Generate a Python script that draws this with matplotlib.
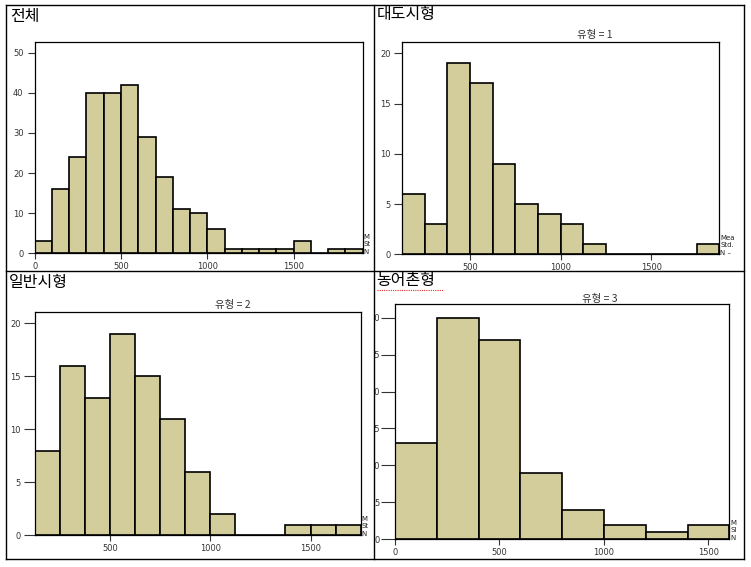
import numpy as np
import matplotlib
matplotlib.use("Agg")
import matplotlib.pyplot as plt
from matplotlib.lines import Line2D
from matplotlib.transforms import Bbox, TransformedBbox

plt.rcParams['font.family'] = ['Noto Sans CJK KR', 'DejaVu Sans']

# 전체 (bin width 100)
edges_all = np.arange(0, 2000, 100)
counts_all = [3, 16, 24, 40, 40, 42, 29, 19, 11, 10, 6, 1, 1, 1, 1, 3, 0, 1, 1]

# 대도시형, 유형 = 1 (bin width 125)
edges_1 = np.arange(125, 2000, 125)
counts_1 = [6, 3, 19, 17, 9, 5, 4, 3, 1, 0, 0, 0, 0, 1]

# 일반시형, 유형 = 2 (bin width 125)
edges_2 = np.arange(125, 1875, 125)
counts_2 = [8, 16, 13, 19, 15, 11, 6, 2, 0, 0, 1, 1, 1]

# 농어촌형, 유형 = 3 (bin width 200)
edges_3 = np.arange(0, 1800, 200)
counts_3 = [13, 30, 27, 9, 4, 2, 1, 2]

W, H = 751, 567
fig = plt.figure(figsize=(W / 100, H / 100), dpi=100)

BAR = '#D3CD9C'


def box(l, r, t, b):
    return [l / W, 1 - b / H, (r - l) / W, (b - t) / H]


def panel(rect, edges, counts, xlim, ylim, xticks, yticks, stats, ylen, ypad):
    ax = fig.add_axes(box(*rect))
    ax.bar(edges[:-1], counts, width=np.diff(edges), align='edge',
           color=BAR, edgecolor='black', linewidth=1.2)
    ax.set_xlim(*xlim)
    ax.set_ylim(*ylim)
    ax.set_xticks(xticks)
    ax.set_yticks(yticks)
    ax.tick_params(width=0.8, labelsize=6, labelcolor='#333333', color='#333333')
    ax.tick_params(axis='x', length=4, pad=2)
    ax.tick_params(axis='y', length=ylen, pad=ypad)
    for lab in ax.get_xticklabels() + ax.get_yticklabels():
        lab.set_family('DejaVu Sans')
    for s in ax.spines.values():
        s.set_linewidth(0.9)
    # 잘린 범례 글자 (Mean / Std. Dev / N)
    hpx = (rect[3] - rect[2])
    for i, s in enumerate(stats):
        off = [16.5, 9, 1.5][i]
        ax.text(1.003, off / hpx, s, transform=ax.transAxes,
                fontsize=5, family='DejaVu Sans', va='center', ha='left',
                color='#222222', clip_on=False)
    return ax


ax1 = panel((34.7, 362.7, 42.3, 253.3), edges_all, counts_all, (0, 1900), (0, 52.6),
            [0, 500, 1000, 1500], range(0, 51, 10), ['M', 'St', 'N'], 5, 3)
ax2 = panel((402, 719.3, 42.3, 254.3), edges_1, counts_1, (125, 1875), (0, 21.1),
            [500, 1000, 1500], range(0, 21, 5), ['Mea', 'Std.', 'N –'], 6, 2)
ax3 = panel((34.7, 360.7, 312.3, 535.3), edges_2, counts_2, (125, 1750), (0, 21.05),
            [500, 1000, 1500], range(0, 21, 5), ['M', 'St', 'N'], 8, 2)
ax4 = panel((395, 729.3, 304.3, 539.3), edges_3, counts_3, (0, 1600), (0, 31.8),
            [0, 500, 1000, 1500], range(0, 31, 5), ['M', 'Sl', 'N'], 10, 1)

# 셀 경계로 잘리는 글자
cells = {ax1: (6, 374, 5, 271), ax2: (374, 744, 5, 271),
         ax3: (6, 374, 271, 559), ax4: (374, 744, 271, 559)}
for ax, (l, r, t, b) in cells.items():
    clip = TransformedBbox(Bbox.from_extents(l / W, 1 - b / H, r / W, 1 - t / H),
                           fig.transFigure)
    for lab in ax.get_yticklabels() + ax.texts:
        lab.set_clip_box(clip)
        lab.set_clip_on(True)

# 표 테두리
lw = 1.0
for x in (6, 374, 744):
    fig.add_artist(Line2D([x / W, x / W], [1 - 5 / H, 1 - 559 / H], color='black', lw=lw))
for y in (5, 271, 559):
    fig.add_artist(Line2D([6 / W, 744 / W], [1 - y / H, 1 - y / H], color='black', lw=lw))

# 패널 제목
titles = [('전체', 10, 17), ('대도시형', 377, 14), ('일반시형', 9, 282), ('농어촌형', 376, 281)]
for s, x, y in titles:
    fig.text(x / W, 1 - y / H, s, fontsize=11.5, va='center', ha='left', color='black')
fig.add_artist(Line2D([377 / W, 443 / W], [1 - 290 / H, 1 - 290 / H],
                      color='#E03030', lw=0.8, ls=(0, (1, 1))))

subs = [('유형 = 1', 595, 35), ('유형 = 2', 233, 305), ('유형 = 3', 600, 299)]
for s, x, y in subs:
    fig.text(x / W, 1 - y / H, s, fontsize=7.5, va='center', ha='center', color='#333333')

fig.savefig('out.png', dpi=100)
